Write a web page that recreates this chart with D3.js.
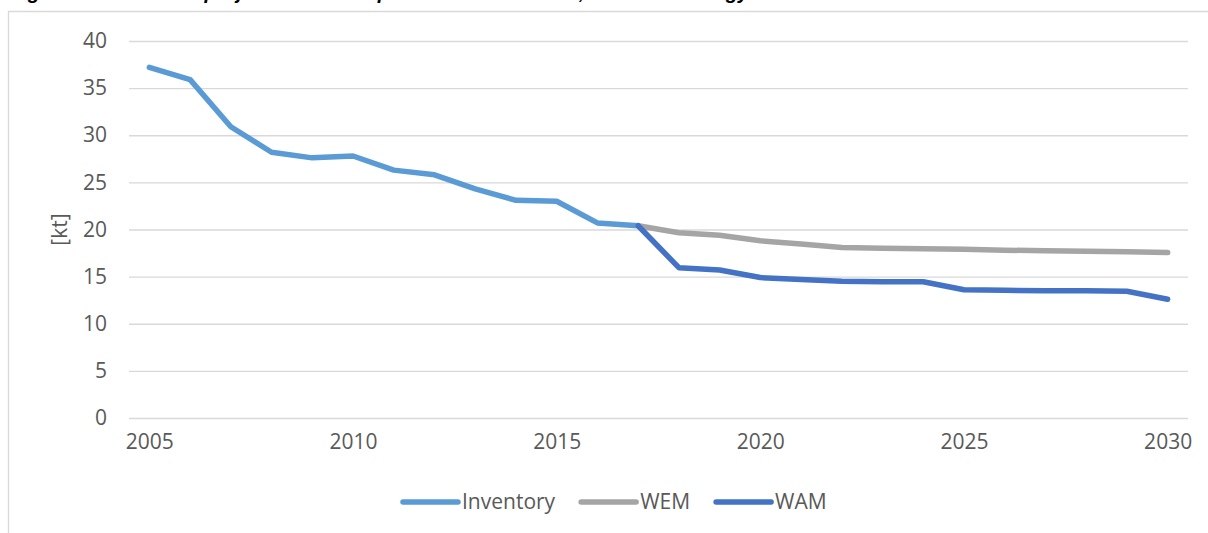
<!DOCTYPE html>
<html>
<head>
<meta charset="utf-8">
<script src="https://cdn.jsdelivr.net/npm/d3@7"></script>
<style>
  html, body { margin: 0; padding: 0; background: #ffffff; }
  svg { display: block; }
</style>
</head>
<body>
<svg id="chart" width="1208" height="533"></svg>
<script>
// Emissions in the energy sector, kilotonnes per year
const years = d3.range(2005, 2031);
const inventoryYears = d3.range(2005, 2018);
const inventory = [37.2, 35.9, 30.9, 28.2, 27.6, 27.8, 26.3, 25.8, 24.3, 23.1, 23.0, 20.7, 20.4];
const projectionYears = d3.range(2017, 2031);
const wem = [20.4, 19.65, 19.4, 18.8, 18.45, 18.1, 18.0, 17.95, 17.9, 17.8, 17.75, 17.7, 17.65, 17.55];
const wam = [20.4, 15.95, 15.7, 14.9, 14.7, 14.5, 14.45, 14.45, 13.6, 13.55, 13.5, 13.5, 13.45, 12.6];
const yTicks = [0, 5, 10, 15, 20, 25, 30, 35, 40];
const xTickLabels = [2005, 2010, 2015, 2020, 2025, 2030];
const seriesNames = ["Inventory", "WEM", "WAM"];
const seriesColors = ["#5B9BD5", "#A5A5A5", "#4472C4"];

const svg = d3.select("#chart");
const font = "'Open Sans', 'Liberation Sans', Arial, sans-serif";
const fontSize = 21;
const textColor = "#595959";

// Caption above the chart frame (runs off the top of the page)
svg.append("text")
  .attr("x", 10).attr("y", -1)
  .attr("font-family", "'Liberation Sans', Arial, sans-serif")
  .attr("font-size", 20).attr("font-weight", "bold").attr("font-style", "italic")
  .attr("fill", "#000")
  .text("Figure 5 – Emission projections of the pollutant NOx in time, in Sector Energy");

// Chart frame
svg.append("path")
  .attr("d", "M8.5,533 V11.5 H1208")
  .attr("fill", "none").attr("stroke", "#d9d9d9").attr("stroke-width", 1.3);

const plot = { left: 129, right: 1188, top: 41, bottom: 418 };

const x = d3.scalePoint().domain(years).range([plot.left, plot.right]).padding(0.5);
const y = d3.scaleLinear().domain([0, 40]).range([plot.bottom, plot.top]);

// Horizontal gridlines and value labels
const yAxis = d3.axisLeft(y).tickValues(yTicks).tickSize(-(plot.right - plot.left)).tickPadding(22);
const gy = svg.append("g").attr("transform", `translate(${plot.left},0)`).call(yAxis);
gy.select(".domain").remove();
gy.selectAll(".tick line").attr("stroke", "#d9d9d9").attr("stroke-width", 1.3);
gy.selectAll(".tick text")
  .attr("font-family", font).attr("font-size", fontSize).attr("fill", textColor);

// Year labels
const xAxis = d3.axisBottom(x).tickValues(xTickLabels).tickSize(0).tickPadding(16);
const gx = svg.append("g").attr("transform", `translate(0,${plot.bottom})`).call(xAxis);
gx.select(".domain").remove();
gx.selectAll(".tick text")
  .attr("font-family", font).attr("font-size", fontSize).attr("fill", textColor);

// Axis title
svg.append("text")
  .attr("transform", `translate(67,${(plot.top + plot.bottom) / 2}) rotate(-90)`)
  .attr("text-anchor", "middle")
  .attr("font-family", font).attr("font-size", fontSize).attr("fill", textColor)
  .text("[kt]");

// Series lines
const line = d3.line().x(d => x(d[0])).y(d => y(d[1]));
const series = [
  d3.zip(inventoryYears, inventory),
  d3.zip(projectionYears, wem),
  d3.zip(projectionYears, wam)
];
series.forEach((pts, i) => {
  svg.append("path")
    .datum(pts)
    .attr("d", line)
    .attr("fill", "none")
    .attr("stroke", seriesColors[i])
    .attr("stroke-width", 5.5)
    .attr("stroke-linecap", "round")
    .attr("stroke-linejoin", "round");
});

// Legend
const legend = svg.append("g");
let lx = 403;
const ly = 502;
seriesNames.forEach((name, i) => {
  legend.append("line")
    .attr("x1", lx).attr("x2", lx + 55).attr("y1", ly).attr("y2", ly)
    .attr("stroke", seriesColors[i]).attr("stroke-width", 5.5).attr("stroke-linecap", "round");
  const t = legend.append("text")
    .attr("x", lx + 59).attr("y", ly).attr("dy", "0.35em")
    .attr("font-family", font).attr("font-size", fontSize).attr("fill", textColor)
    .text(name);
  lx += 59 + t.node().getComputedTextLength() + 26;
});
</script>
</body>
</html>
